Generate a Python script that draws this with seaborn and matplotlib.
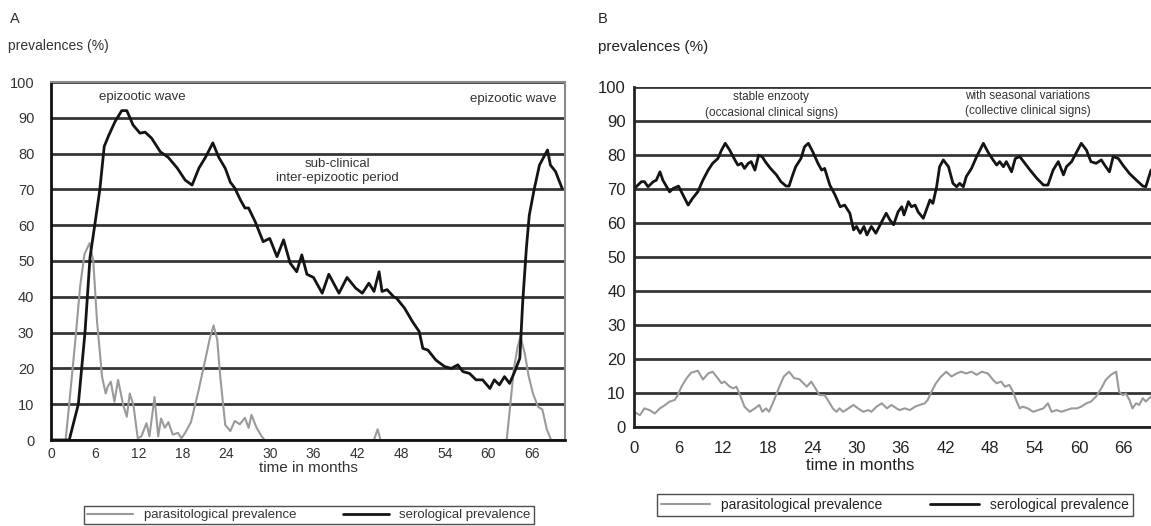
import matplotlib
matplotlib.use("Agg")
import matplotlib.pyplot as plt
import numpy as np
import pandas as pd
import seaborn as sns

# ---- panel A: epizootic waves ----
months_a_sero = [0, 2.5, 3.75, 4.66, 5.35, 6.0, 6.7, 7.3, 7.9, 8.8, 9.7, 10.4, 11.25, 12.2, 12.9,
                 13.8, 15.0, 16.1, 17.3, 18.4, 19.35, 20.3, 21.2, 22.2, 23.0, 23.9, 24.6, 25.2,
                 26.0, 26.6, 27.1, 28.0, 29.1, 30.0, 31.0, 31.9, 32.8, 33.7, 34.4, 35.1, 36.0,
                 37.2, 38.1, 39.5, 40.6, 41.8, 42.7, 43.6, 44.3, 45.0, 45.4, 46.1, 47.0, 47.4,
                 48.5, 49.6, 50.5, 51.0, 51.7, 52.8, 54.0, 54.9, 55.8, 56.5, 57.4, 58.3, 59.2,
                 60.2, 60.8, 61.5, 62.2, 62.9, 63.6, 64.3, 64.7, 65.2, 65.6, 66.3, 67.0, 68.1,
                 68.5, 69.2, 70.1]
sero_a = [0, 0, 10, 30, 51, 60, 70, 82, 85, 89, 92, 92, 88, 85.7, 86,
          84.3, 80.5, 78.9, 76, 72.6, 71.2, 76, 79, 83, 79, 75.9, 72, 70.4,
          67, 64.8, 64.8, 61, 55.4, 56.3, 51.2, 55.9, 49.4, 47, 51.7, 46.3, 45.4,
          41, 46.3, 41, 45.4, 42.4, 41, 43.8, 41.5, 47, 41.5, 42, 40, 39.6,
          36.8, 33, 30.3, 25.6, 25.1, 22.3, 20.5, 20, 21, 19.1, 18.6, 16.8, 16.8,
          14.4, 16.8, 15.4, 17.7, 15.8, 19.1, 22.8, 38.6, 53.5, 62.8, 70.3, 76.8, 81,
          76.8, 75, 70.3]

months_a_para = [0, 2.0, 2.4, 3.3, 4.0, 4.6, 5.3, 5.8, 6.3, 7.0, 7.5, 7.8, 8.2, 8.7, 9.2, 9.9,
                 10.4, 10.8, 11.3, 11.9, 12.4, 13.1, 13.5, 14.2, 14.7, 15.1, 15.6, 16.1, 16.7,
                 17.4, 17.9, 18.4, 19.2, 20.2, 20.9, 21.8, 22.3, 22.8, 23.2, 23.9, 24.6, 25.2,
                 25.9, 26.6, 27.1, 27.5, 28.2, 28.9, 29.3, 44.3, 44.8, 45.2, 62.5, 63.0, 63.5,
                 64.0, 64.4, 65.0, 65.5, 66.1, 66.8, 67.4, 68.0, 68.6]
para_a = [0, 0, 8, 27, 43, 52, 55, 50, 33.5, 17.7, 13, 15, 16.3, 10.7, 16.8, 9.8,
          6.5, 13, 9.8, 0.5, 1, 4.7, 1, 12, 1, 6, 3.4, 5, 1.5,
          2, 0.5, 2, 5, 13.5, 20, 28.5, 32, 28, 18, 4.2, 2.5, 5.3,
          4.4, 6.2, 3.4, 7, 3.4, 1, 0, 0, 3, 0, 0, 10, 20,
          26, 29, 24, 18, 13, 9.3, 8.5, 3, 0]

# ---- panel B: stable enzooty ----
months_b_sero = [0, 0.3, 1.0, 1.4, 1.9, 2.6, 3.0, 3.5, 3.9, 4.4, 4.8, 5.3, 6.0, 6.6, 7.3, 7.9,
                 8.6, 9.3, 10.0, 10.6, 11.3, 11.8, 12.3, 12.9, 13.6, 14.0, 14.5, 14.9, 15.4,
                 15.8, 16.3, 16.8, 17.3, 17.7, 18.4, 19.2, 19.8, 20.5, 20.9, 21.4, 21.8, 22.5,
                 23.0, 23.5, 24.1, 24.8, 25.3, 25.7, 26.4, 27.1, 27.8, 28.4, 29.1, 29.6, 30.0,
                 30.5, 31.0, 31.4, 32.0, 32.6, 33.4, 34.0, 34.5, 35.0, 35.6, 36.1, 36.4, 37.0,
                 37.4, 37.9, 38.3, 39.0, 39.4, 39.9, 40.3, 40.8, 41.2, 41.7, 42.4, 43.0, 43.5,
                 43.9, 44.4, 44.8, 45.5, 46.2, 47.1, 47.7, 48.4, 48.9, 49.3, 49.8, 50.2, 50.9,
                 51.4, 52.0, 52.7, 53.4, 54.3, 55.2, 55.8, 56.5, 57.2, 57.9, 58.3, 59.0, 59.7,
                 60.3, 61.0, 61.6, 62.3, 63.0, 63.6, 64.1, 64.6, 65.3, 65.9, 66.8, 67.7, 68.6,
                 69.0, 69.7]
sero_b = [70, 70.7, 72.2, 72.2, 70.7, 72.2, 72.6, 75.1, 72.6, 70.7, 69.2, 70.2, 70.9, 68.3, 65.3, 67.3,
          69.2, 72.7, 75.6, 77.6, 79, 81.5, 83.5, 81.5, 78.6, 77.1, 77.6, 76.1, 77.6,
          78.1, 75.6, 80, 79.5, 78.1, 76.1, 74.2, 72.2, 70.9, 70.9, 74.2, 76.6, 79,
          82.5, 83.5, 81, 77.6, 75.6, 76.1, 71.2, 68.3, 64.8, 65.3, 62.9, 58, 59,
          57, 59, 56.5, 59, 57, 60.4, 62.9, 60.9, 59.5, 63.3, 64.8, 62.4, 66.3,
          64.8, 65.3, 63.3, 61.4, 63.8, 66.8, 65.8, 70.7, 76.6, 78.6, 76.6, 71.7, 70.7,
          71.7, 70.7, 73.7, 76.1, 79.6, 83.5, 81, 78.6, 77.1, 78.1, 76.6, 78.1, 75.1,
          79, 79.6, 77.6, 75.6, 73.2, 71.2, 71.2, 75.6, 78.1, 74.2, 76.6, 78.1, 81,
          83.5, 81.5, 78.1, 77.6, 78.6, 76.6, 75.1, 79.6, 79, 77.1, 74.6, 72.7, 70.9,
          70.7, 75.6]

months_b_para = [0, 0.8, 1.4, 2.1, 2.8, 3.5, 4.2, 4.8, 5.5, 5.9, 6.4, 7.1, 7.7, 8.6, 9.3, 10.0,
                 10.6, 11.3, 11.8, 12.2, 12.9, 13.4, 13.8, 14.3, 14.9, 15.6, 16.3, 16.9, 17.3,
                 17.8, 18.2, 18.9, 19.6, 20.2, 20.9, 21.6, 22.3, 23.3, 23.9, 24.6, 25.0, 25.7,
                 26.4, 26.8, 27.3, 27.7, 28.2, 28.9, 29.6, 30.2, 30.9, 31.6, 32.0, 32.7, 33.4,
                 34.1, 34.7, 35.4, 35.8, 36.5, 37.2, 37.9, 38.5, 39.2, 39.6, 40.1, 40.7, 41.4,
                 42.1, 42.8, 43.5, 44.1, 44.8, 45.5, 46.2, 46.9, 47.7, 48.4, 48.9, 49.5, 50.0,
                 50.6, 51.1, 51.5, 52.0, 52.4, 53.1, 53.8, 54.5, 55.2, 55.8, 56.3, 57.0, 57.6,
                 58.3, 59.0, 59.7, 60.3, 61.0, 61.6, 62.3, 63.0, 63.6, 64.3, 65.0, 65.4, 65.9,
                 66.3, 66.8, 67.2, 67.7, 68.1, 68.6, 69.0, 69.7]
para_b = [4.4, 3.4, 5.4, 4.9, 3.9, 5.4, 6.4, 7.4, 7.9, 9.3, 11.8, 14.3, 15.9, 16.5, 13.9, 15.7,
          16.2, 14.3, 12.8, 13.3, 11.8, 11.3, 11.8, 9.3, 5.9, 4.4, 5.4, 6.4, 4.4,
          5.4, 4.4, 7.9, 11.8, 14.8, 16.2, 14.3, 14, 11.8, 13.3, 10.8, 9.3, 9.3,
          6.9, 5.4, 4.4, 5.4, 4.4, 5.4, 6.4, 5.4, 4.4, 4.9, 4.4, 5.9, 6.9,
          5.4, 6.4, 5.4, 4.9, 5.4, 4.9, 5.9, 6.4, 6.9, 7.9, 10.3, 12.8, 14.8,
          16.2, 14.8, 15.7, 16.2, 15.7, 16.2, 15.3, 16.2, 15.7, 13.8, 12.8, 13.3, 11.8,
          12.3, 10.3, 7.9, 5.4, 5.9, 5.4, 4.4, 4.9, 5.4, 6.9, 4.4, 4.9, 4.4,
          4.9, 5.4, 5.4, 5.9, 6.9, 7.4, 8.9, 11.3, 13.8, 15.3, 16.2, 10.3, 9.3,
          9.8, 7.9, 5.4, 6.9, 6.4, 8.4, 7.4, 8.9]

x_ticks = list(range(0, 67, 6))
y_ticks = list(range(0, 101, 10))

SERO_COLOR = "#141414"
PARA_COLOR = "#9a9a9a"
W, H = 1151, 526

sns.set_theme(style="white")
plt.rcParams["font.family"] = ["Liberation Sans", "DejaVu Sans"]

fig = plt.figure(figsize=(W / 100, H / 100), dpi=100)
ax_a = fig.add_axes([51 / W, 1 - 440 / H, 514 / W, 358 / H])
ax_b = fig.add_axes([634 / W, 1 - 426.7 / H, 517 / W, 339.4 / H])


def draw(ax, mp, vp, ms, vs):
    sns.lineplot(x=mp, y=vp, ax=ax, color=PARA_COLOR, linewidth=1.5,
                 label="parasitological prevalence", sort=False, estimator=None)
    sns.lineplot(x=ms, y=vs, ax=ax, color=SERO_COLOR, linewidth=2.0,
                 label="serological prevalence", sort=False, estimator=None)
    ax.set_ylim(0, 100)
    ax.set_yticks(y_ticks)
    ax.set_xticks(x_ticks)
    ax.set_xlabel("")
    ax.set_ylabel("")
    ax.grid(axis="y", color="#363636", linewidth=2.0)
    ax.grid(axis="x", visible=False)
    ax.set_axisbelow(True)


draw(ax_a, months_a_para, para_a, months_a_sero, sero_a)
draw(ax_b, months_b_para, para_b, months_b_sero, sero_b)

# panel A styling
ax_a.set_xlim(0, 70.5)
for s in ["top", "right"]:
    ax_a.spines[s].set_color("#8a8a8a")
    ax_a.spines[s].set_linewidth(1.5)
for s in ["left", "bottom"]:
    ax_a.spines[s].set_color("#111111")
    ax_a.spines[s].set_linewidth(2.0)
ax_a.tick_params(axis="x", direction="in", length=3, width=1, color="#555555",
                 labelsize=10, labelcolor="#333333", pad=5)
ax_a.tick_params(axis="y", direction="out", length=3, width=1, color="#555555",
                 labelsize=10.5, labelcolor="#333333", pad=9)
ax_a.legend(loc="center", bbox_to_anchor=(309 / W, 1 - 515 / H),
            bbox_transform=fig.transFigure, ncol=2, frameon=True, fancybox=False,
            edgecolor="#222222", fontsize=9.5, handlelength=3.5, columnspacing=3.5,
            borderpad=0.25, borderaxespad=0, labelcolor="#333333")

# panel B styling
ax_b.set_xlim(0, 69.7)
ax_b.set_xticks(list(range(3, 70, 6)), minor=True)
ax_b.spines["top"].set_visible(False)
ax_b.spines["right"].set_visible(False)
for s in ["left", "bottom"]:
    ax_b.spines[s].set_color("#222222")
    ax_b.spines[s].set_linewidth(2.0)
ax_b.tick_params(axis="x", which="both", direction="out", length=3, width=1,
                 color="#333333", labelsize=12, labelcolor="#222222", pad=7)
ax_b.tick_params(axis="y", direction="out", length=3, width=1, color="#333333",
                 labelsize=12, labelcolor="#222222", pad=3)
ax_b.legend(loc="center", bbox_to_anchor=(895 / W, 1 - 505 / H),
            bbox_transform=fig.transFigure, ncol=2, frameon=True, fancybox=False,
            edgecolor="#222222", fontsize=10, handlelength=3.5, columnspacing=3.5,
            borderpad=0.3, borderaxespad=0, labelcolor="#222222")

# annotations
ax_a.text(12.5, 95.8, "epizootic wave", ha="center", va="center", fontsize=9.5, color="#333333")
ax_a.text(69.4, 95.3, "epizootic wave", ha="right", va="center", fontsize=9.5, color="#333333")
ax_a.text(39.3, 75.2, "sub-clinical\ninter-epizootic period", ha="center", va="center",
          fontsize=9.5, color="#333333", linespacing=1.25)
ax_b.text(18.5, 94.8, "stable enzooty\n(occasional clinical signs)", ha="center",
          va="center", fontsize=8.5, color="#333333", linespacing=1.4)
ax_b.text(53.1, 95.2, "with seasonal variations\n(collective clinical signs)", ha="center",
          va="center", fontsize=8.5, color="#333333", linespacing=1.4)

# panel letters, axis titles
fig.text(10 / W, 1 - 19 / H, "A", ha="left", va="center", fontsize=10.5, color="#333333")
fig.text(598 / W, 1 - 19 / H, "B", ha="left", va="center", fontsize=10.5, color="#222222")
fig.text(8 / W, 1 - 46 / H, "prevalences (%)", ha="left", va="center", fontsize=10,
         color="#333333")
fig.text(598 / W, 1 - 47 / H, "prevalences (%)", ha="left", va="center", fontsize=11,
         color="#222222")
fig.text(308 / W, 1 - 468 / H, "time in months", ha="center", va="center", fontsize=11,
         color="#333333")
fig.text(860 / W, 1 - 465 / H, "time in months", ha="center", va="center", fontsize=12,
         color="#222222")

fig.savefig("out.png", dpi=100, facecolor="white")
